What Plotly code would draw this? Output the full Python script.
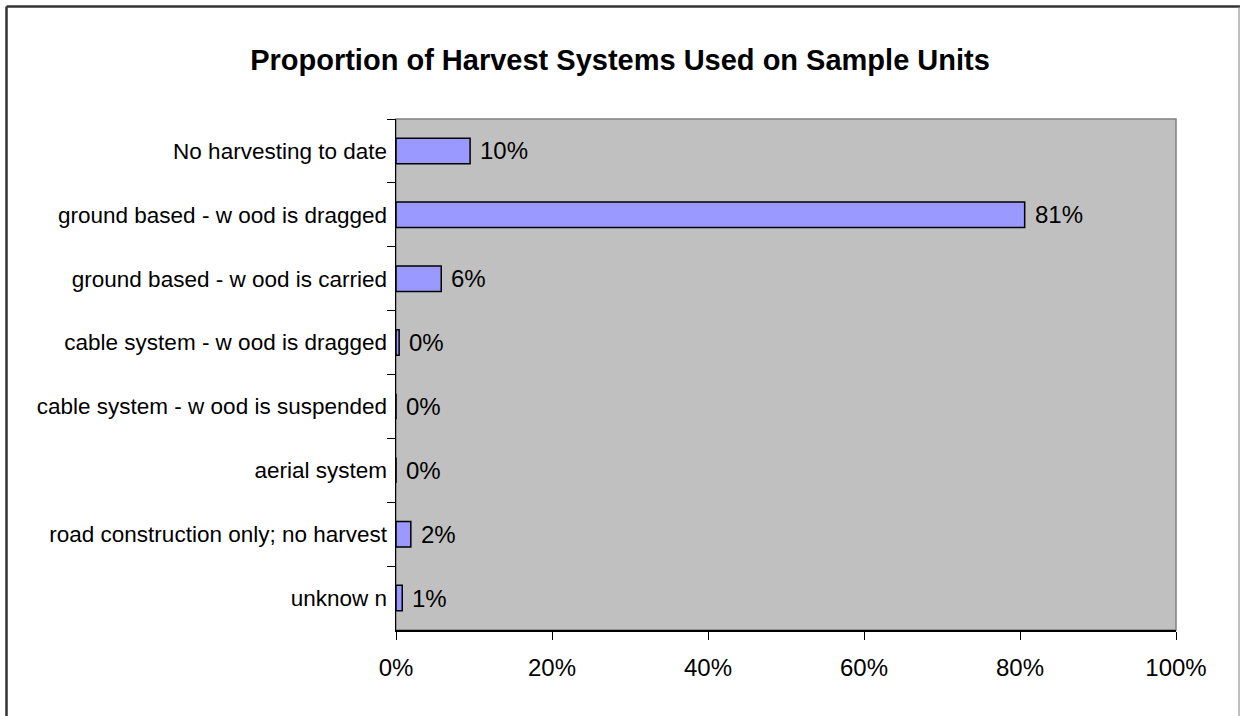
import plotly.graph_objects as go

categories = [
    "No harvesting to date",
    "ground based - w ood is dragged",
    "ground based - w ood is carried",
    "cable system - w ood is dragged",
    "cable system - w ood is suspended",
    "aerial system",
    "road construction only; no harvest",
    "unknow n",
]
values = [0.095, 0.806, 0.058, 0.004, 0.0, 0.0, 0.019, 0.008]
labels = [f"{round(v * 100)}%" for v in values]
x_ticks = [0, 0.2, 0.4, 0.6, 0.8, 1.0]
x_ticklabels = ["0%", "20%", "40%", "60%", "80%", "100%"]

W, H = 1240, 716
L, R, T, B = 396, 1176, 119, 630

def px(x):
    return (x - L) / (R - L)

def py(y):
    return (B - y) / (B - T)

FONT = "Liberation Sans, Arial, sans-serif"

fig = go.Figure()
fig.add_trace(go.Bar(
    x=values, y=categories, orientation="h", width=0.4,
    marker=dict(color="#9999FF", line=dict(color="black", width=1.5)),
    hoverinfo="skip",
))

for v, c, t in zip(values, categories, labels):
    fig.add_annotation(x=v, y=c, text=t, xanchor="left", yanchor="middle",
                       showarrow=False, xshift=8,
                       font=dict(family=FONT, size=24, color="black"))

shapes = [
    dict(type="rect", xref="paper", yref="paper", x0=0, x1=1, y0=0, y1=1,
         line=dict(color="#808080", width=1.5), layer="below"),
    dict(type="line", xref="paper", yref="paper", x0=px(6.5), x1=px(1240), y0=py(6.5), y1=py(6.5),
         line=dict(color="#333333", width=2.5)),
    dict(type="line", xref="paper", yref="paper", x0=px(6.5), x1=px(6.5), y0=py(6.5), y1=py(720),
         line=dict(color="#333333", width=2.5)),
    dict(type="line", xref="paper", yref="paper", x0=px(1239), x1=px(1239), y0=py(6.5), y1=py(720),
         line=dict(color="#808080", width=1)),
]

fig.update_layout(
    width=W, height=H,
    margin=dict(l=L, r=W - R, t=T, b=H - B, pad=0),
    paper_bgcolor="white", plot_bgcolor="#C0C0C0",
    showlegend=False,
    shapes=shapes,
    title=dict(text="<b>Proportion of Harvest Systems Used on Sample Units</b>",
               x=0.5, xanchor="center", xref="container", y=1 - 60 / H, yanchor="middle",
               font=dict(family=FONT, size=29, color="black")),
    bargap=0.6,
)
fig.update_xaxes(range=[0, 1], tickvals=x_ticks, ticktext=x_ticklabels,
                 ticks="outside", ticklen=8, tickcolor="black", tickwidth=1,
                 ticklabelstandoff=8,
                 showline=True, linecolor="black", linewidth=1.5,
                 showgrid=False, zeroline=False,
                 tickfont=dict(family=FONT, size=24, color="black"))
fig.update_yaxes(type="category", categoryorder="array", categoryarray=categories,
                 autorange="reversed", tickson="boundaries",
                 ticks="outside", ticklen=8, tickcolor="black", tickwidth=1,
                 ticklabelstandoff=3,
                 showline=True, linecolor="black", linewidth=1.5,
                 showgrid=False, zeroline=False,
                 tickfont=dict(family=FONT, size=22.5, color="black"))

fig.write_html("out.html", config={"displayModeBar": False, "staticPlot": True},
               post_script="document.body.style.margin='0';document.body.style.overflow='hidden';")
